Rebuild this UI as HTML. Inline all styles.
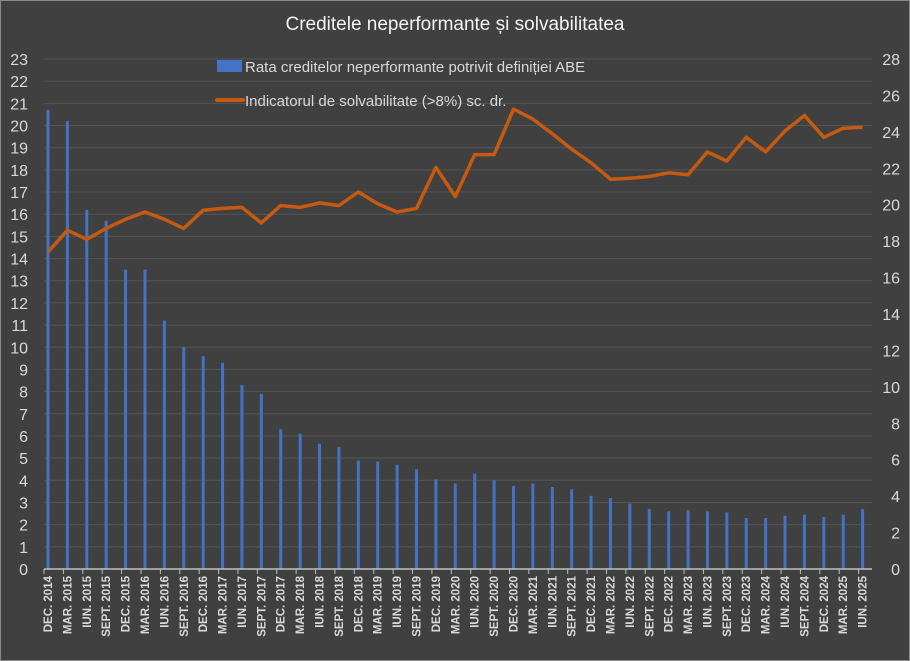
<!DOCTYPE html>
<html><head><meta charset="utf-8"><style>
body{margin:0;background:#404040}
svg{display:block;font-family:"Liberation Sans",sans-serif}
</style></head><body>
<svg id="c" width="910" height="661">
<rect x="0.5" y="0.5" width="909" height="660" fill="#404040" stroke="#8a8a8a"/>
<text x="455" y="30" text-anchor="middle" fill="#f2f2f2" font-size="19">Creditele neperformante și solvabilitatea</text>
<g id="grid"></g><g id="bars"></g><g id="axes"></g><g id="line"></g>
<g>
<rect x="217" y="60" width="25" height="12" fill="#4472c4"/>
<text x="245" y="72" fill="#d9d9d9" font-size="15">Rata creditelor neperformante  potrivit definiției ABE</text>
<line x1="217" y1="100" x2="243" y2="100" stroke="#c55a11" stroke-width="4" stroke-linecap="round"/>
<text x="245" y="106" fill="#d9d9d9" font-size="15">Indicatorul de solvabilitate (&gt;8%) sc. dr.</text>
</g>
</svg>
<script>
const categories=["DEC. 2014","MAR. 2015","IUN. 2015","SEPT. 2015","DEC. 2015","MAR. 2016","IUN. 2016","SEPT. 2016","DEC. 2016","MAR. 2017","IUN. 2017","SEPT. 2017","DEC. 2017","MAR. 2018","IUN. 2018","SEPT. 2018","DEC. 2018","MAR. 2019","IUN. 2019","SEPT. 2019","DEC. 2019","MAR. 2020","IUN. 2020","SEPT. 2020","DEC. 2020","MAR. 2021","IUN. 2021","SEPT. 2021","DEC. 2021","MAR. 2022","IUN. 2022","SEPT. 2022","DEC. 2022","MAR. 2023","IUN. 2023","SEPT. 2023","DEC. 2023","MAR. 2024","IUN. 2024","SEPT. 2024","DEC. 2024","MAR. 2025","IUN. 2025"];
const nplValues=[20.7,20.2,16.2,15.7,13.5,13.5,11.2,10.0,9.6,9.3,8.3,7.9,6.3,6.1,5.65,5.5,4.9,4.85,4.7,4.5,4.05,3.85,4.3,4.0,3.75,3.85,3.7,3.6,3.3,3.2,2.95,2.7,2.6,2.65,2.6,2.55,2.3,2.3,2.4,2.45,2.35,2.45,2.7];
const solvValues=[17.4,18.6,18.1,18.7,19.2,19.6,19.2,18.7,19.7,19.8,19.85,19.0,19.95,19.85,20.1,19.95,20.7,20.05,19.6,19.8,22.05,20.45,22.75,22.75,25.25,24.7,23.9,23.05,22.3,21.4,21.45,21.55,21.75,21.65,22.9,22.4,23.7,22.9,24.05,24.9,23.7,24.2,24.25];
const leftTicks=[0,1,2,3,4,5,6,7,8,9,10,11,12,13,14,15,16,17,18,19,20,21,22,23];
const rightTicks=[0,2,4,6,8,10,12,14,16,18,20,22,24,26,28];
const X0=44,X1=878,Y0=569,Y1=59,NS="http://www.w3.org/2000/svg";
const step=(X1-X0)/categories.length;
const xc=i=>X0+step*i+4;
const yL=v=>Y0-(Y0-Y1)*v/23;
const yR=v=>Y0-(Y0-Y1)*v/28;
function mk(t,a,p){const e=document.createElementNS(NS,t);for(const k in a)e.setAttribute(k,a[k]);p.appendChild(e);return e;}
const grid=document.getElementById('grid'),bars=document.getElementById('bars'),axes=document.getElementById('axes'),line=document.getElementById('line');
leftTicks.forEach(v=>{
  if(v>0){const g=mk('line',{x1:X0,x2:872,y1:yL(v),y2:yL(v),stroke:'#555555','stroke-width':1},grid);
  
  }
  const t=mk('text',{x:28,y:yL(v)+6,'text-anchor':'end',fill:'#d9d9d9','font-size':16},axes);t.textContent=v;
  
  
});
rightTicks.forEach(v=>{
  const t=mk('text',{x:900,y:yR(v)+6,'text-anchor':'end',fill:'#d9d9d9','font-size':16},axes);t.textContent=v;
  
  
});
const ax=mk('line',{x1:X0,x2:872,y1:Y0,y2:Y0,stroke:'#bfbfbf','stroke-width':1.5},axes);


categories.forEach((c,i)=>{
  const tk=mk('line',{x1:X0+step*i,x2:X0+step*i,y1:Y0,y2:Y0+5,stroke:'#bfbfbf'},axes);
  
  
  const x=xc(i)+4,y=Y0+7;
  const t=mk('text',{x:x,y:y,'text-anchor':'end',fill:'#d9d9d9','font-size':11.5,'font-weight':'bold',transform:`rotate(-90 ${x} ${y})`},axes);t.textContent=c;
  
  
  const b=mk('rect',{x:xc(i)-1.5,y:yL(nplValues[i]),width:3,height:Y0-yL(nplValues[i]),fill:'#4472c4'},bars);
  
  
});
const pts=solvValues.map((v,i)=>xc(i).toFixed(1)+','+yR(v).toFixed(1)).join(' ');
const pl=mk('polyline',{points:pts,fill:'none',stroke:'#c55a11','stroke-width':3.5,'stroke-linejoin':'round'},line);


</script>
</body></html>
